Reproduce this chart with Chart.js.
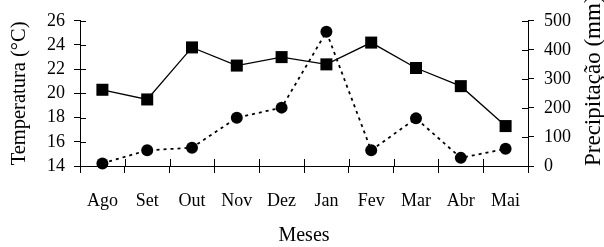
<!DOCTYPE html>
<html>
<head>
<meta charset="utf-8">
<script src="https://cdn.jsdelivr.net/npm/chart.js@4/dist/chart.umd.min.js"></script>
<style>
  html, body { margin: 0; padding: 0; background: #fff; }
  canvas { display: block; }
</style>
</head>
<body>
<canvas id="c" width="604" height="247"></canvas>
<script>
const months = ['Ago', 'Set', 'Out', 'Nov', 'Dez', 'Jan', 'Fev', 'Mar', 'Abr', 'Mai'];
const temperature = [20.3, 19.5, 23.8, 22.3, 23.0, 22.4, 24.2, 22.1, 20.6, 17.3];
const precipitation = [9, 54, 63, 166, 201, 462, 54, 164, 28, 59];
const tempTicks = [14, 16, 18, 20, 22, 24, 26];
const precTicks = [0, 100, 200, 300, 400, 500];
const xTitle = 'Meses';
const yLeftTitle = 'Temperatura (°C)';
const yRightTitle = 'Precipitação (mm)';

const FONT = "'Liberation Serif', 'Times New Roman', serif";

const innerTicks = {
  id: 'innerTicks',
  afterDraw(chart) {
    const ctx = chart.ctx;
    const x = chart.scales.x, yl = chart.scales.y, yr = chart.scales.y1;
    const ca = chart.chartArea;
    ctx.save();
    ctx.strokeStyle = '#000';
    ctx.lineWidth = 1;
    ctx.beginPath();
    for (let i = 0; i < yl.ticks.length; i++) {
      const p = Math.round(yl.getPixelForTick(i)) + 0.5;
      ctx.moveTo(ca.left, p); ctx.lineTo(ca.left + 6, p);
    }
    for (let i = 0; i < yr.ticks.length; i++) {
      const p = Math.round(yr.getPixelForTick(i)) + 0.5;
      ctx.moveTo(ca.right, p); ctx.lineTo(ca.right - 6, p);
    }
    for (let k = 0; k <= months.length; k++) {
      const p = Math.round(x.getPixelForValue(k - 0.5)) + 0.5;
      ctx.moveTo(p, ca.bottom); ctx.lineTo(p, ca.bottom - 7);
    }
    ctx.stroke();
    // right axis title, reading bottom-to-top
    ctx.fillStyle = '#000';
    ctx.font = "23px " + FONT;
    ctx.textAlign = 'left';
    ctx.textBaseline = 'alphabetic';
    ctx.translate(600, ca.bottom);
    ctx.rotate(-Math.PI / 2);
    ctx.fillText(yRightTitle, 0, 0);
    ctx.restore();
  }
};

new Chart(document.getElementById('c'), {
  type: 'line',
  data: {
    labels: months,
    datasets: [
      {
        label: 'Temperatura',
        data: temperature,
        yAxisID: 'y',
        borderColor: '#000',
        backgroundColor: '#000',
        borderWidth: 1.3,
        pointStyle: 'rect',
        pointRadius: 8.5,
        pointHoverRadius: 8.5,
        pointBorderWidth: 0,
        tension: 0,
        clip: false
      },
      {
        label: 'Precipitação',
        data: precipitation,
        yAxisID: 'y1',
        borderColor: '#000',
        backgroundColor: '#000',
        borderWidth: 1.8,
        borderDash: [3, 4],
        pointStyle: 'circle',
        pointRadius: 6,
        pointHoverRadius: 6,
        pointBorderWidth: 0,
        tension: 0,
        clip: false
      }
    ]
  },
  options: {
    responsive: false,
    animation: false,
    events: [],
    layout: { padding: { top: 16, left: 0, right: 0, bottom: 0 } },
    plugins: { legend: { display: false }, tooltip: { enabled: false } },
    scales: {
      x: {
        type: 'category',
        offset: true,
        grid: { offset: true, drawOnChartArea: false, drawTicks: true, tickLength: 7, color: '#000', lineWidth: 1 },
        border: { display: true, color: '#000', width: 1 },
        ticks: { color: '#000', font: { family: FONT, size: 18 }, padding: 17, maxRotation: 0, autoSkip: false },
        title: { display: true, text: xTitle, color: '#000', font: { family: FONT, size: 20, lineHeight: 1 }, padding: { top: 0, bottom: 1.5 } },
        afterFit(s) { s.height = 81; }
      },
      y: {
        position: 'left',
        min: 14, max: 26,
        afterBuildTicks(s) { s.ticks = tempTicks.map(v => ({ value: v })); },
        grid: { drawOnChartArea: false, drawTicks: true, tickLength: 6, color: '#000', lineWidth: 1 },
        border: { display: true, color: '#000', width: 1 },
        ticks: { color: '#000', font: { family: FONT, size: 18 }, padding: 9, autoSkip: false },
        title: { display: true, text: yLeftTitle, color: '#000', font: { family: FONT, size: 20.5, lineHeight: 1 }, padding: { top: 9.5, bottom: 0 } },
        afterFit(s) { s.width = 80; }
      },
      y1: {
        position: 'right',
        min: 0, max: 500,
        afterBuildTicks(s) { s.ticks = precTicks.map(v => ({ value: v })); },
        grid: { drawOnChartArea: false, drawTicks: true, tickLength: 6, color: '#000', lineWidth: 1 },
        border: { display: true, color: '#000', width: 1 },
        ticks: { color: '#000', font: { family: FONT, size: 18 }, padding: 10, autoSkip: false },
        title: { display: false },
        afterFit(s) { s.width = 76; }
      }
    }
  },
  plugins: [innerTicks]
});
</script>
</body>
</html>
